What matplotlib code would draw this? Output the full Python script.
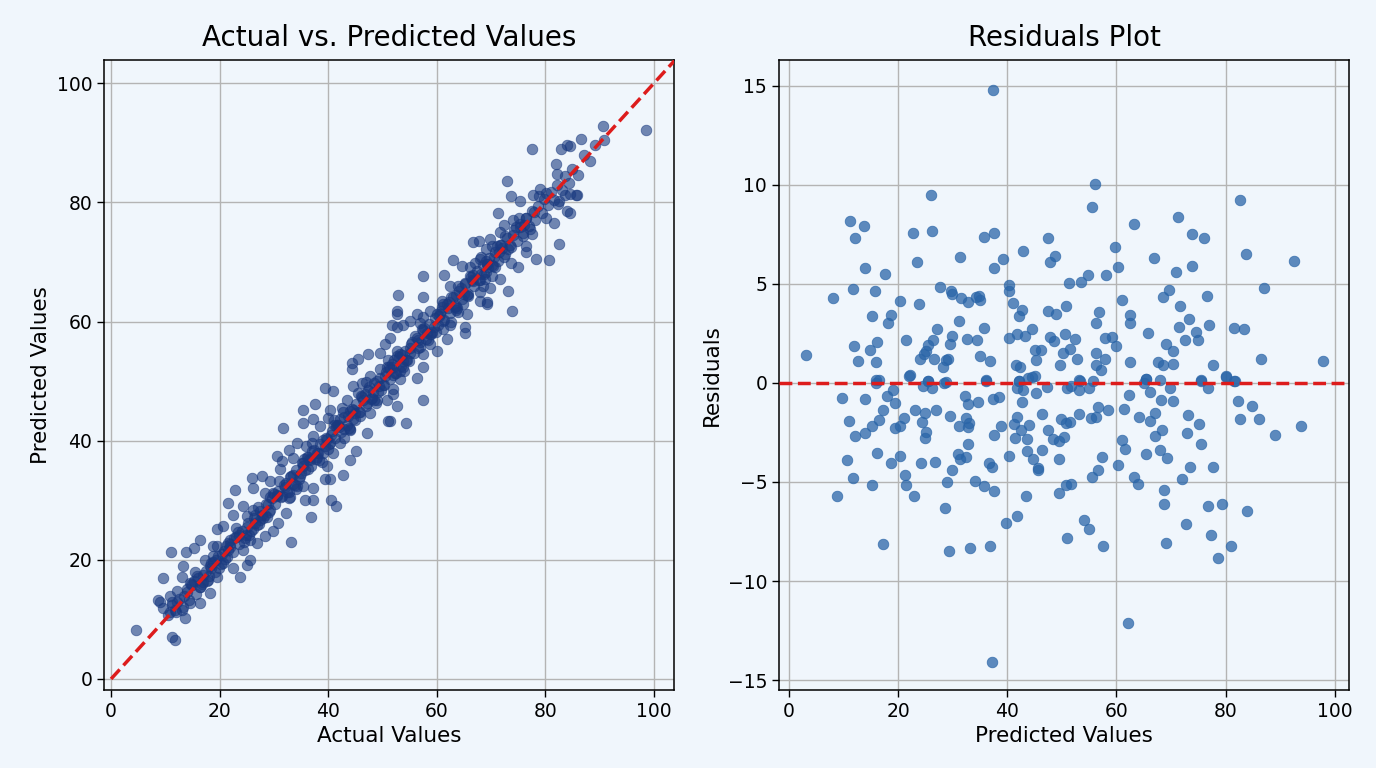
import matplotlib
matplotlib.use("Agg")
import matplotlib.pyplot as plt

# ---------------- Left panel data (actual, predicted) ----------------
actual = [
 84.5,86.5,90.7,90.8,98.6,85.9,84.5,84.5,
 77.5,82.9,84.0,81.9,82.1,73.0,73.7,75.3,77.8,79.0,80.2,78.9,82.5,83.6,85.7,82.4,84.0,71.3,74.1,75.2,76.5,80.2,81.6,72.3,71.6,75.3,77.2,72.6,75.9,77.5,82.5,69.8,69.1,70.1,73.5,76.5,76.5,71.4,72.3,78.2,80.6,75.0,73.6,68.0,69.2,70.7,71.6,70.1,68.7,69.8,68.6,73.1,69.2,73.8,68.0,
 66.7,67.7,63.0,57.5,61.3,64.6,66.1,68.2,69.3,52.9,57.5,52.7,52.7,62.4,64.0,65.2,66.7,68.0,69.2,61.2,63.6,64.9,65.5,60.6,58.7,57.5,56.3,55.1,53.8,52.6,51.7,65.2,65.2,62.4,61.2,61.8,58.7,56.9,55.1,52.6,60.0,57.5,53.8,57.5,56.3,53.2,52.0,52.0,52.6,57.4,54.4,51.4,
 51.4,50.5,47.4,45.5,44.3,44.3,49.5,52.6,49.5,51.4,47.7,46.2,44.6,39.4,40.9,52.0,50.8,48.9,47.1,43.4,42.5,44.6,45.8,47.7,51.0,37.6,40.3,40.0,35.4,35.4,37.2,38.5,41.5,44.0,47.1,37.2,39.7,42.2,45.2,36.0,37.9,40.9,44.0,42.8,39.7,36.6,35.4,39.4,40.3,37.2,35.4,35.7,37.2,40.6,41.5,36.9,
 31.7,34.2,32.7,30.5,31.4,33.6,35.4,36.3,31.1,25.9,27.8,29.3,32.3,34.2,26.2,22.8,28.4,30.5,32.7,21.6,24.3,26.2,29.3,32.3,22.5,25.0,27.4,30.8,20.7,23.1,26.2,29.9,28.4,25.6,21.9,26.8,33.1,19.5,21.6,24.3,25.6,25.0,18.8,20.7,22.5,23.8,19.5,18.2,18.5,
 16.4,15.2,13.8,11.0,19.5,18.8,17.3,13.3,9.5,13.0,15.5,18.2,14.5,16.4,12.1,10.9,9.0,8.7,9.6,10.9,13.0,13.6,11.2,14.5,16.4,4.6,11.2,11.8,
 10.5,11.3,12.0,12.6,13.2,13.9,14.4,15.0,15.6,16.1,16.8,17.4,17.9,18.5,19.1,19.7,12.2,14.0,15.3,16.9,18.0,19.3,13.5,17.0,11.8,
 20.2,20.8,21.3,21.9,22.4,23.0,23.5,24.1,24.6,25.2,25.8,26.3,26.9,27.4,28.0,28.5,29.1,29.6,20.5,22.0,23.6,25.0,26.5,27.8,29.0,21.5,24.5,27.0,28.8,
 30.2,30.7,31.3,31.8,32.4,33.0,33.5,34.1,34.6,35.2,35.8,36.3,36.9,37.4,38.0,38.5,39.1,39.6,30.5,32.0,33.6,35.0,36.5,38.2,39.4,31.0,34.0,37.0,38.8,33.0,
 40.2,40.7,41.3,41.8,42.4,43.0,43.5,44.1,44.6,45.2,45.8,46.3,46.9,47.4,48.0,48.5,49.1,49.6,40.5,42.0,43.6,45.0,46.5,48.2,49.4,41.0,44.0,47.0,48.8,43.0,45.5,42.7,
 50.2,50.7,51.3,51.8,52.4,53.0,53.5,54.1,54.6,55.2,55.8,56.3,56.9,57.4,58.0,58.5,59.1,59.6,50.5,52.0,53.6,55.0,56.5,58.2,59.4,51.0,54.0,57.0,58.8,53.2,
 60.2,60.7,61.3,61.8,62.4,63.0,63.5,64.1,64.6,65.2,65.8,66.3,66.9,67.4,68.0,68.5,69.1,69.6,60.5,62.0,63.6,65.0,66.5,68.2,69.4,61.0,64.0,67.0,62.6,
 70.2,70.8,71.3,71.9,72.5,73.0,73.6,74.2,74.7,75.3,75.9,76.4,77.0,77.6,78.1,78.7,79.3,79.8,70.5,72.0,74.0,76.0,78.0,
 80.4,81.0,81.6,82.2,83.0,83.7,84.3,85.0,86.0,87.2,88.3,89.1,
 14.7,16.3,18.7,20.9,22.7,24.8,26.6,28.3,30.0,31.5,33.2,34.8,36.1,37.7,39.0,40.4,41.6,42.9,44.3,45.6,46.7,47.9,49.0,50.1,51.2,52.3,53.3,54.4,55.5,56.6,57.7,58.9,60.0,61.1,62.2,63.3,64.4,65.5,66.6,67.8,69.0,70.4,71.7,73.2,74.6,
 15.8,19.9,23.3,27.2,29.8,32.8,35.5,38.3,41.1,43.8,46.0,48.4,50.9,53.8,56.0,58.4,60.9,63.8,66.2,68.8,71.1,
 17.6,21.1,25.5,29.3,33.9,37.0,40.0,42.2,44.9,47.6,49.8,52.2,54.8,57.2,59.8,62.7,65.7,
]
predicted = [
 89.5,90.6,92.8,90.5,92.1,81.3,81.4,78.2,
 88.9,88.9,89.7,86.4,84.7,83.6,81.0,80.3,81.2,82.2,81.6,81.0,80.3,81.2,81.2,79.7,78.5,78.2,77.1,77.3,77.4,77.4,76.6,76.2,75.1,75.9,75.5,74.3,74.4,74.7,73.0,73.8,72.2,72.7,72.8,72.6,71.7,71.6,70.9,70.5,70.3,69.2,69.8,70.5,69.6,69.1,67.2,67.7,68.0,65.7,66.0,65.1,62.9,61.8,63.5,
 73.3,73.5,70.3,67.6,67.8,69.4,69.1,70.8,69.6,64.4,64.2,61.8,61.2,66.0,66.0,66.3,66.8,64.9,63.2,63.0,62.0,62.9,61.2,61.2,61.8,60.7,61.2,60.1,59.5,59.0,59.5,59.0,58.1,59.5,58.7,57.0,57.9,56.5,55.6,55.0,55.0,54.5,53.4,52.3,50.6,51.7,51.1,47.8,45.8,46.8,43.0,43.3,
 57.3,56.2,54.5,53.7,53.1,52.0,54.8,54.2,52.0,52.0,50.9,49.7,49.2,48.9,48.4,48.6,46.9,46.9,46.4,46.9,45.5,45.2,44.1,44.7,43.3,46.1,45.2,43.8,45.2,43.0,43.6,42.5,42.5,41.9,41.3,40.8,40.2,39.6,38.2,39.1,37.9,37.9,36.8,34.3,35.7,36.8,35.7,33.5,33.5,32.1,32.4,30.1,30.1,30.1,29.0,27.2,
 42.1,39.6,38.5,37.4,36.6,37.1,36.3,35.2,35.2,33.8,34.1,33.2,32.9,32.4,32.1,31.7,31.3,30.7,30.4,29.6,29.0,28.4,28.4,27.9,27.6,27.3,26.7,26.2,25.6,25.3,25.1,24.8,24.0,23.4,23.4,22.8,23.0,22.3,21.7,21.7,19.9,19.2,20.6,19.5,18.6,17.2,17.2,14.4,18.6,
 23.4,22.0,21.3,21.3,25.1,22.3,20.0,18.9,16.9,17.2,18.0,18.9,16.1,15.5,14.7,13.9,13.0,13.3,11.9,11.3,11.6,10.2,13.0,12.7,12.7,8.2,7.1,6.6,
 10.8,12.4,11.2,13.5,12.1,14.6,13.2,15.8,14.3,17.0,15.9,18.2,16.6,19.4,18.0,20.6,13.0,15.1,16.4,17.5,17.3,19.9,13.9,16.2,11.5,
 19.3,21.5,20.4,22.6,21.3,23.8,22.6,24.9,23.7,26.1,24.9,27.0,25.8,28.2,27.1,29.3,28.0,30.4,20.9,22.1,24.2,25.5,26.1,27.6,29.3,22.9,23.0,28.9,27.2,
 29.4,31.5,30.5,32.6,31.4,33.9,32.7,35.0,33.6,36.3,35.0,37.2,35.8,38.4,37.2,39.5,38.0,40.5,30.8,32.2,34.3,34.6,36.9,38.0,39.1,33.2,31.9,39.6,36.5,30.6,
 39.5,41.6,40.4,42.7,41.5,43.9,42.6,45.0,43.7,46.2,44.8,47.3,45.9,48.5,47.1,49.6,48.2,50.5,40.9,42.3,44.1,44.7,46.8,48.1,49.2,43.4,41.8,49.8,46.4,40.5,48.0,44.8,
 49.3,51.6,50.3,52.8,51.4,54.0,52.5,55.1,53.6,56.3,54.7,57.3,55.8,58.6,57.0,59.6,58.2,60.6,50.8,52.3,54.3,54.7,56.9,58.0,59.0,53.6,51.7,59.7,56.3,50.4,
 59.4,61.7,60.3,62.9,61.5,64.1,62.6,65.2,63.7,66.4,64.7,67.5,65.9,68.5,67.0,69.5,68.3,70.6,60.9,62.2,64.5,64.6,66.9,68.0,69.1,63.4,61.6,69.8,60.0,
 69.5,71.6,70.2,72.9,71.4,74.0,72.5,75.3,73.6,76.3,74.8,77.4,76.0,78.6,77.0,79.4,78.2,80.5,70.9,72.3,74.5,76.2,78.4,
 79.5,81.7,80.4,83.0,82.0,84.4,83.2,85.6,84.6,87.9,86.9,89.6,
 15.9,15.5,19.6,20.1,23.6,24.1,27.5,27.6,31.1,30.7,34.1,34.0,37.2,36.9,40.1,39.6,42.7,42.0,45.4,44.8,47.8,47.0,50.1,49.3,52.3,51.4,54.5,53.5,56.6,55.6,58.9,57.9,61.2,60.1,63.3,62.4,65.6,64.5,67.8,66.9,70.2,69.3,72.9,72.1,75.8,
 17.3,18.6,24.7,26.0,31.2,31.4,36.9,36.8,42.6,42.1,47.5,46.9,52.4,52.3,57.5,56.9,62.4,62.2,67.7,67.1,72.6,
 16.4,22.4,24.1,30.6,32.5,38.3,38.6,43.7,43.4,49.0,48.5,53.6,53.3,58.7,58.3,64.1,64.3,
]

# ---------------- Right panel data (predicted, residual) ----------------
res_pred = [
 37.4,26.0,11.2,13.8,12.2,22.8,26.3,35.8,37.5,47.4,42.9,48.8,47.9,31.3,23.4,14.0,17.6,39.3,37.6,51.3,40.3,40.4,27.6,29.7,29.8,31.5,32.9,34.3,35.1,34.8,
 11.8,8.05,15.8,20.3,23.8,41.0,42.7,42.1,47.4,48.9,50.7,15.2,18.7,18.2,31.2,35.8,27.1,44.5,40.3,41.8,43.2,47.9,48.5,50.6,21.5,26.4,25.5,29.8,29.5,32.6,
 34.4,12.0,16.2,14.9,25.2,24.7,3.2,12.6,15.9,24.0,26.6,28.7,29.2,28.2,35.0,36.8,45.1,46.2,45.3,49.6,50.3,41.6,42.4,22.2,25.5,36.2,15.9,16.6,42.2,43.8,45.1,28.7,
 56.0,55.6,63.3,71.3,73.9,76.1,82.6,83.8,92.5,59.7,60.2,58.1,54.8,53.6,66.9,70.9,73.9,87.1,69.7,68.5,76.6,61.0,71.6,56.8,62.4,62.5,56.3,73.3,71.5,65.8,
 74.5,76.9,72.6,74.9,81.5,83.4,52.4,58.0,59.2,60.0,51.5,56.2,52.7,57.9,62.5,69.1,70.3,67.7,68.6,70.3,77.6,86.5,97.9,56.3,57.1,80.1,81.5,65.5,75.5,53.4,
 9.8,13.9,18.0,19.4,19.1,17.2,16.6,11.0,15.3,13.9,12.1,10.7,11.8,8.9,16.1,15.3,17.3,18.7,20.3,19.4,20.3,21.1,23.1,24.9,24.4,25.1,24.9,27.0,24.2,26.8,
 21.2,21.4,23.0,29.9,28.9,28.6,29.3,33.1,36.9,37.2,29.6,32.3,32.8,34.6,32.5,33.0,31.2,32.8,32.8,31.0,32.4,31.3,34.1,35.8,37.6,36.6,37.2,37.6,38.8,37.4,
 38.5,40.3,39.7,41.8,43.4,42.7,45.3,41.8,41.3,43.9,42.5,41.5,43.6,46.4,47.5,48.3,49.8,49.4,50.4,46.4,43.7,44.7,45.7,45.7,49.4,49.4,50.7,50.9,50.7,16.0,
 22.1,25.4,24.5,26.2,28.5,36.2,42.2,41.7,42.8,47.2,44.6,51.0,
 53.2,51.5,55.4,56.3,56.7,58.5,61.3,62.3,66.1,68.1,70.4,69.8,64.2,66.1,67.1,68.3,67.0,73.1,75.2,73.0,75.5,82.2,84.8,82.7,86.1,89.0,93.8,61.0,61.6,57.4,
 60.2,56.7,55.6,51.6,65.5,67.9,69.3,73.5,77.7,72.1,63.3,64.0,68.8,68.7,76.7,79.3,83.9,72.7,77.3,81.0,78.6,54.1,55.0,57.5,69.1,62.2,
 51.6,53.1,54.9,55.7,53.1,65.5,67.9,75.5,76.8,80.1,81.7,65.0,
]
residuals = [
 14.8,9.48,8.15,7.91,7.29,7.59,7.66,7.37,7.56,7.32,6.67,6.41,6.09,6.35,6.11,5.82,5.49,6.28,5.81,5.05,4.93,4.63,4.83,4.66,4.50,4.29,4.09,4.34,4.17,4.38,
 4.73,4.29,4.63,4.14,3.99,4.02,3.67,3.38,3.65,3.50,3.86,3.38,3.43,3.05,3.13,2.79,2.71,2.73,2.26,2.46,2.37,2.32,2.10,2.46,2.15,2.15,1.90,2.36,1.99,2.24,
 2.19,1.84,2.09,1.67,1.60,1.45,1.43,1.13,1.08,1.21,1.23,1.14,1.23,0.82,1.38,1.09,1.67,1.67,1.16,0.91,1.52,0.88,0.79,0.42,0.08,0.13,0.13,0.13,0.08,0.25,0.37,0.03,
 10.05,8.86,8.03,8.35,7.51,7.31,9.24,6.52,6.14,6.84,5.84,5.44,5.47,5.10,6.31,5.62,5.91,4.80,4.71,4.36,4.38,4.19,3.89,3.60,3.45,3.00,3.03,3.22,2.81,2.54,
 2.59,2.90,2.15,2.15,2.76,2.74,2.22,2.29,2.34,1.84,1.72,1.52,1.23,1.23,1.08,1.95,1.63,1.04,0.91,0.98,0.88,1.20,1.13,0.88,0.67,0.35,0.10,0.20,0.13,0.10,
 -0.76,-0.82,-0.64,-1.00,-0.34,-1.39,-1.88,-1.92,-2.15,-2.54,-2.66,-3.90,-4.80,-5.71,-3.53,-5.13,-8.12,-4.02,-3.71,-2.25,-2.18,-1.75,-1.39,-1.50,-1.97,-2.47,-2.77,-1.39,-4.03,-3.98,
 -4.67,-5.13,-5.73,-4.42,-5.01,-6.32,-8.50,-8.32,-8.25,-14.08,-1.68,-0.67,-1.04,-0.97,-1.76,-2.02,-2.17,-2.24,-3.09,-3.61,-3.75,-3.83,-4.96,-5.18,-5.45,-4.03,-4.25,-2.62,-2.18,-0.79,
 -0.71,-3.71,-7.09,-6.71,-5.71,-0.94,-0.52,-1.70,-2.07,-2.13,-2.39,-2.76,-2.81,-1.55,-2.39,-2.82,-1.80,-2.94,-2.74,-3.41,-3.43,-3.82,-4.29,-4.40,-3.83,-5.58,-5.13,-7.83,-2.02,0.00,
 0.34,0.08,-0.17,-0.25,0.00,0.12,0.08,-0.25,-0.34,-0.20,0.29,-0.25,
 -1.55,-1.98,-1.78,-1.73,-1.23,-1.39,-1.31,-0.61,-0.47,-0.87,-0.91,-0.25,-1.71,-1.92,-1.50,-2.39,-2.69,-1.63,-2.07,-2.55,-3.08,-0.92,-1.14,-1.82,-1.80,-2.64,-2.15,-2.89,-3.36,-3.75,
 -4.13,-4.39,-4.76,-5.09,-3.58,-3.41,-3.80,-4.25,-4.24,-4.87,-4.77,-5.08,-5.39,-6.13,-6.22,-6.10,-6.45,-7.11,-7.66,-8.24,-8.84,-6.92,-7.36,-8.22,-8.10,-12.10,
 -0.17,-0.34,-0.25,0.12,0.17,0.22,0.17,0.12,-0.25,0.29,0.08,0.00,
]

x_ticks = [0, 20, 40, 60, 80, 100]
left_y_ticks = [0, 20, 40, 60, 80, 100]
right_y_ticks = [-15, -10, -5, 0, 5, 10, 15]

BG = "#f0f6fc"
RED = "#dd1c1c"

plt.rcParams['font.family'] = ['DejaVu Sans']
fig = plt.figure(figsize=(13.76, 7.68), dpi=100, facecolor=BG)

W, H = 1376, 768
def box(l, t, r, b):
    return [l / W, 1 - b / H, (r - l) / W, (b - t) / H]

ax1 = fig.add_axes(box(104, 60, 674, 690))
ax2 = fig.add_axes(box(779, 60, 1349, 690))

for ax in (ax1, ax2):
    ax.set_facecolor(BG)
    ax.grid(True, color="#b4b4b4", linewidth=1.0)
    ax.set_axisbelow(True)
    for s in ax.spines.values():
        s.set_color("black")
        s.set_linewidth(1.1)
    ax.tick_params(labelsize=13.5, length=5, width=1.0)
    ax.set_xticks(x_ticks)

# Left panel
ax1.scatter(actual, predicted, s=58, color="#1a3a80", alpha=0.6,
            edgecolors="#1a3a80", linewidths=0.6, zorder=2)
ax1.plot([0, 106], [0, 106], ls="--", color=RED, lw=2.5, zorder=3)
ax1.set_xlim(-1.3, 103.7)
ax1.set_ylim(-1.85, 103.9)
ax1.set_yticks(left_y_ticks)
ax1.set_title("Actual vs. Predicted Values", fontsize=20, pad=10)
ax1.set_xlabel("Actual Values", fontsize=15.5)
ax1.set_ylabel("Predicted Values", fontsize=15.5)

# Right panel
ax2.scatter(res_pred, residuals, s=58, color="#2a65a8", alpha=0.75,
            edgecolors="#2a65a8", linewidths=0.6, zorder=2)
ax2.axhline(0, ls="--", color=RED, lw=2.5, zorder=3)
ax2.set_xlim(-1.8, 102.6)
ax2.set_ylim(-15.5, 16.3)
ax2.set_yticks(right_y_ticks)
ax2.set_title("Residuals Plot", fontsize=20, pad=10)
ax2.set_xlabel("Predicted Values", fontsize=15.5)
ax2.set_ylabel("Residuals", fontsize=15.5)

fig.savefig("out.png", dpi=100, facecolor=BG)
